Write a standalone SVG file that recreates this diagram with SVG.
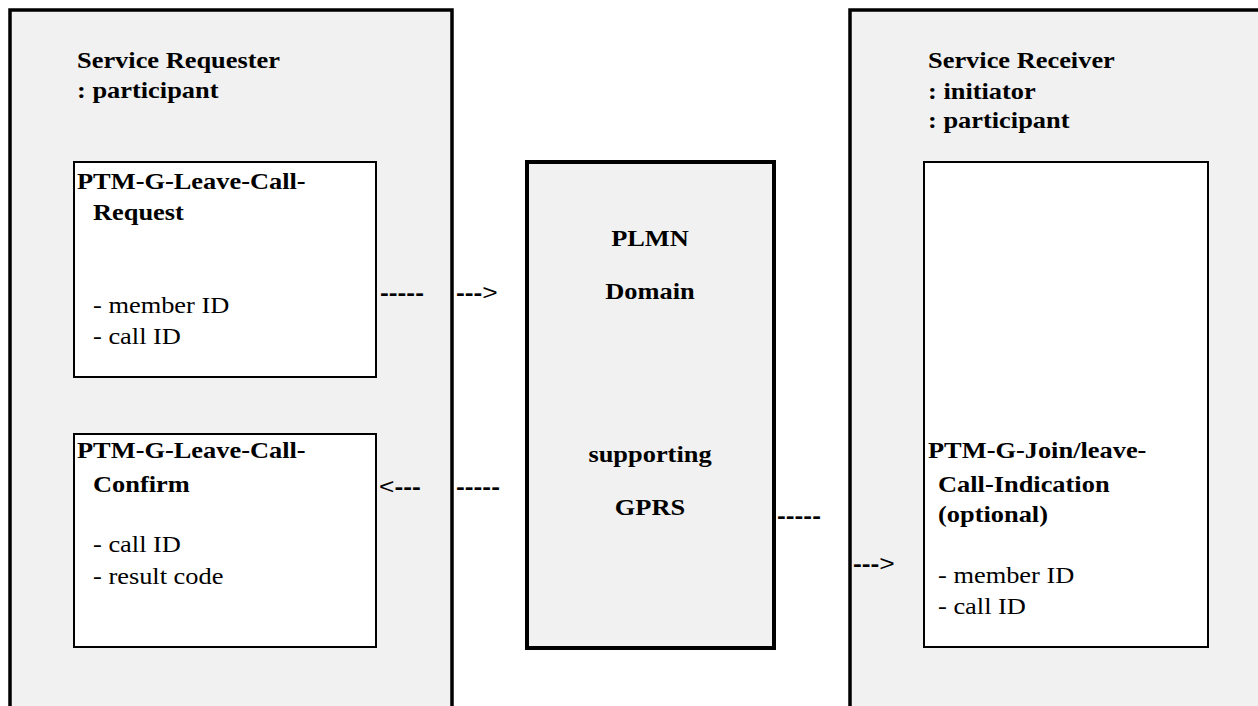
<svg xmlns="http://www.w3.org/2000/svg" width="1258" height="706" viewBox="0 0 1258 706">
<style>
text { font-family: "Liberation Serif", "Times New Roman", serif; font-size: 24px; fill: #000; }
.b { font-weight: bold; }
.c { text-anchor: middle; }
.d { font-family: "Liberation Sans", Arial, sans-serif; font-size: 22px; }
.outer { fill: #f1f1f1; stroke: #000; stroke-width: 3.5; }
.inner { fill: #fff; stroke: #000; stroke-width: 2; }
.domain { fill: #f1f1f1; stroke: #000; stroke-width: 4; }
</style>
<rect x="0" y="0" width="1258" height="706" fill="#fff"/>
<g id="requester">
  <rect class="outer" x="10" y="10" width="442" height="730"/>
  <text class="b" transform="translate(77,68) scale(1.1,1)">Service Requester</text>
  <text class="b" transform="translate(77,98) scale(1.1,1)">: participant</text>
</g>
<g id="leave-request">
  <rect class="inner" x="74" y="162" width="302" height="215"/>
  <text class="b" transform="translate(77,189) scale(1.1,1)">PTM-G-Leave-Call-</text>
  <text class="b" transform="translate(93,220) scale(1.1,1)">Request</text>
  <text transform="translate(93,313) scale(1.1,1)">- member ID</text>
  <text transform="translate(93,344) scale(1.1,1)">- call ID</text>
</g>
<g id="leave-confirm">
  <rect class="inner" x="74" y="434" width="302" height="213"/>
  <text class="b" transform="translate(77,458) scale(1.1,1)">PTM-G-Leave-Call-</text>
  <text class="b" transform="translate(93,492) scale(1.1,1)">Confirm</text>
  <text transform="translate(93,552) scale(1.1,1)">- call ID</text>
  <text transform="translate(93,584) scale(1.1,1)">- result code</text>
</g>
<g id="plmn">
  <rect class="domain" x="527" y="162" width="247" height="486"/>
  <text class="b c" transform="translate(650,246) scale(1.1,1)">PLMN</text>
  <text class="b c" transform="translate(650,299) scale(1.1,1)">Domain</text>
  <text class="b c" transform="translate(650,462) scale(1.1,1)">supporting</text>
  <text class="b c" transform="translate(650,515) scale(1.1,1)">GPRS</text>
</g>
<g id="receiver">
  <rect class="outer" x="850" y="10" width="450" height="730"/>
  <text class="b" transform="translate(928,68) scale(1.1,1)">Service Receiver</text>
  <text class="b" transform="translate(928,98.5) scale(1.1,1)">: initiator</text>
  <text class="b" transform="translate(928,128) scale(1.1,1)">: participant</text>
</g>
<g id="join-leave-indication">
  <rect class="inner" x="924" y="162" width="284" height="485"/>
  <text class="b" transform="translate(928,458) scale(1.1,1)">PTM-G-Join/leave-</text>
  <text class="b" transform="translate(938,492) scale(1.1,1)">Call-Indication</text>
  <text class="b" transform="translate(938,522) scale(1.1,1)">(optional)</text>
  <text transform="translate(938,583) scale(1.1,1)">- member ID</text>
  <text transform="translate(938,614) scale(1.1,1)">- call ID</text>
</g>
<g id="connectors">
  <text class="d b" transform="translate(380,300) scale(1.2,1)">-----</text>
  <text class="d" transform="translate(456,300) scale(1.2,1)"><tspan class="b">---</tspan>&gt;</text>
  <text class="d" transform="translate(379,494) scale(1.2,1)">&lt;<tspan class="b">---</tspan></text>
  <text class="d b" transform="translate(456,494) scale(1.2,1)">-----</text>
  <text class="d b" transform="translate(777,523) scale(1.2,1)">-----</text>
  <text class="d" transform="translate(853,571) scale(1.2,1)"><tspan class="b">---</tspan>&gt;</text>
</g>
</svg>
